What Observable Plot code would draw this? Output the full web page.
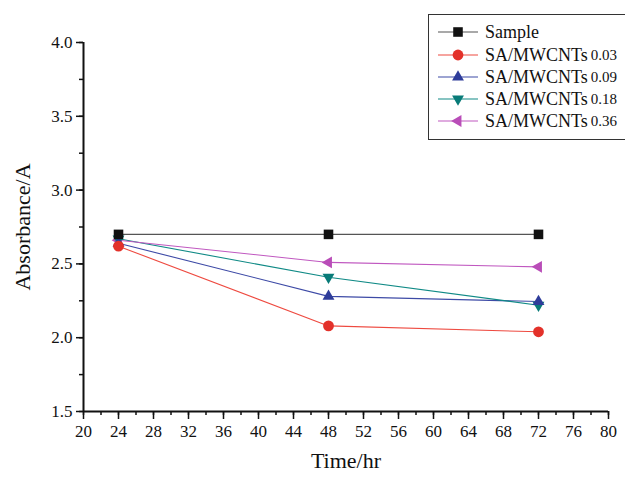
<!DOCTYPE html>
<html><head><meta charset="utf-8">
<script src="https://cdn.jsdelivr.net/npm/d3@7"></script>
<script src="https://cdn.jsdelivr.net/npm/@observablehq/plot@0.6"></script>
<style>
body{margin:0;background:#fff;}
#wrap{position:relative;width:625px;height:478px;font-family:"Liberation Serif","Times New Roman",serif;}
#legend{position:absolute;left:428px;top:14px;width:210px;height:126px;border:1.5px solid #333;background:#fff;box-sizing:border-box;}
.item{position:absolute;left:8px;height:22px;display:flex;align-items:center;}
.item span.main{font-size:18px;color:#111;}
.item span.sub{font-size:15px;color:#111;margin-left:3px;}
</style></head>
<body><div id="wrap"><div id="chart"></div><div id="legend"></div></div>
<script>
const times = [24, 48, 72];
const seriesNames = ["Sample", "SA/MWCNTs 0.03", "SA/MWCNTs 0.09", "SA/MWCNTs 0.18", "SA/MWCNTs 0.36"];
const sample = [2.70, 2.70, 2.70];
const mw003 = [2.62, 2.08, 2.04];
const mw009 = [2.64, 2.28, 2.245];
const mw018 = [2.67, 2.41, 2.22];
const mw036 = [2.66, 2.51, 2.48];
const xTicks = d3.range(20, 81, 4);
const xMinor = d3.range(20, 81, 2);
const yTicks = [1.5, 2.0, 2.5, 3.0, 3.5, 4.0];
const yMinor = d3.range(1.5, 4.01, 0.25);

const styles = [
  {line:"#555555", fill:"#111111", symbol:"square", r:5.4, rotate:0},
  {line:"#ee4a40", fill:"#e3312a", symbol:"circle", r:5.4, rotate:0},
  {line:"#3d4aa6", fill:"#2e3c9a", symbol:"triangle", r:4.4, rotate:0},
  {line:"#108a86", fill:"#087b78", symbol:"triangle", r:4.4, rotate:180},
  {line:"#c058c0", fill:"#b94db8", symbol:"triangle", r:4.4, rotate:-90}
];
const allValues = [sample, mw003, mw009, mw018, mw036];
const data = [];
allValues.forEach((vals, i) => vals.forEach((v, j) => data.push({series: seriesNames[i], idx: i, t: times[j], v})));

const marks = [];
styles.forEach((s, i) => {
  const d = data.filter(e => e.idx === i);
  marks.push(Plot.line(d, {x: "t", y: "v", stroke: s.line, strokeWidth: 1.1}));
});
[4,3,2,1,0].forEach(i => {
  const s = styles[i];
  const d = data.filter(e => e.idx === i);
  marks.push(Plot.dot(d, {x: "t", y: "v", symbol: () => s.symbol, fill: s.fill, stroke: "none", r: s.r, rotate: s.rotate}));
});

const chart = Plot.plot({
  width: 625, height: 478,
  marginLeft: 83, marginRight: 17, marginTop: 42, marginBottom: 67,
  style: {fontFamily: '"Liberation Serif","Times New Roman",serif', background: "#fff", color: "#111"},
  x: {domain: [20, 80]},
  y: {domain: [1.5, 4.0]},
  symbol: {type: "identity"},
  marks: [
    Plot.axisX({ticks: xMinor, tickSize: 4, text: null, label: null, strokeWidth: 1.5}),
    Plot.axisX({ticks: xTicks, tickSize: 8, tickPadding: 5, fontSize: 17, strokeWidth: 1.5, tickFormat: d => d, label: null}),
    Plot.axisY({ticks: yMinor, tickSize: 4, text: null, label: null, strokeWidth: 1.5}),
    Plot.axisY({ticks: yTicks, tickSize: 7, tickPadding: 4, fontSize: 17, strokeWidth: 1.5, tickFormat: d3.format(".1f"), label: null}),
    Plot.ruleX([20], {stroke: "#111", strokeWidth: 2}),
    Plot.ruleY([1.5], {stroke: "#111", strokeWidth: 2}),
    Plot.text(["Time/hr"], {frameAnchor: "bottom", dy: 56, fontSize: 22, fill: "#111"}),
    Plot.text(["Absorbance/A"], {frameAnchor: "left", textAnchor: "middle", dx: -61, rotate: -90, fontSize: 22, fill: "#111"}),
    ...marks
  ]
});
document.getElementById("chart").appendChild(chart);

// legend
const legend = d3.select("#legend");
const rowsY = [6, 29, 51, 73, 95];
seriesNames.forEach((name, i) => {
  const s = styles[i];
  const item = legend.append("div").attr("class", "item").style("top", rowsY[i] + "px");
  const svg = item.append("svg").attr("width", 48).attr("height", 22);
  svg.append("line").attr("x1", 1).attr("x2", 41).attr("y1", 11).attr("y2", 11).attr("stroke", s.line).attr("stroke-width", 1.2);
  const symType = s.symbol === "square" ? d3.symbolSquare : s.symbol === "circle" ? d3.symbolCircle : d3.symbolTriangle;
  svg.append("path").attr("d", d3.symbol(symType, s.r * s.r * Math.PI)()).attr("fill", s.fill)
    .attr("transform", `translate(21,11) rotate(${s.rotate})`);
  const parts = name.split(" ");
  item.append("span").attr("class", "main").text(parts[0]);
  if (parts[1]) item.append("span").attr("class", "sub").text(parts[1]);
});
</script></body></html>
